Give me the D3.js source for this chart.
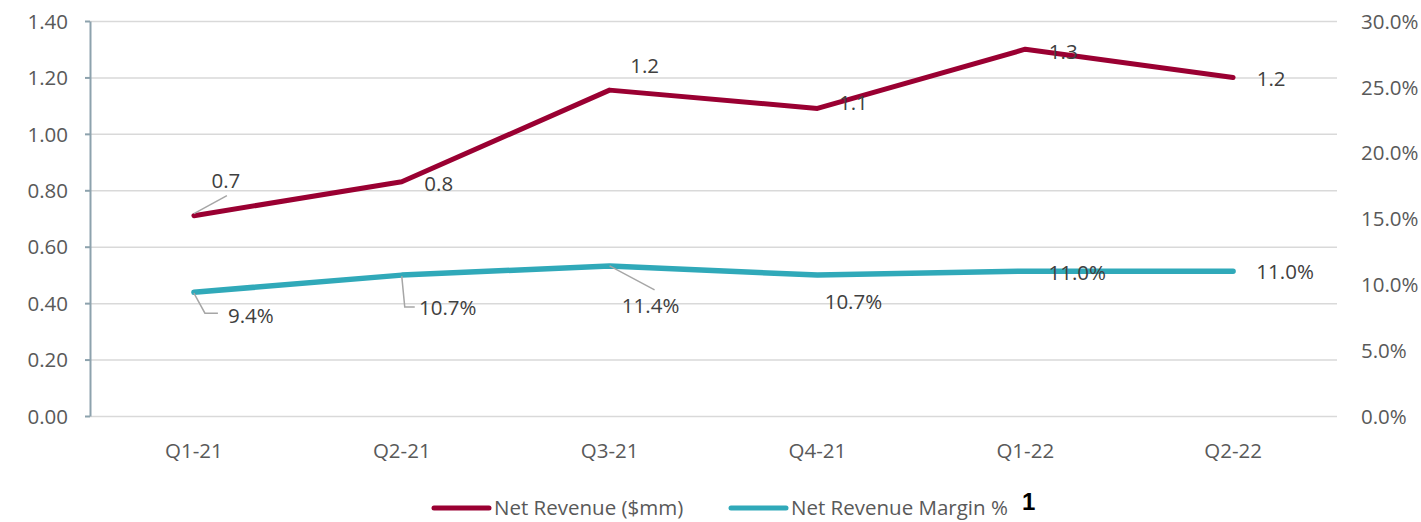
<!DOCTYPE html>
<html>
<head>
<meta charset="utf-8">
<script src="https://cdn.jsdelivr.net/npm/d3@7"></script>
<style>
  body { margin: 0; background: #fff; }
  svg text { font-family: "Open Sans", "Noto Sans", sans-serif; }
</style>
</head>
<body>
<svg id="revenue" width="1421" height="522"></svg>
<script>
// chart data
const categories = ["Q1-21", "Q2-21", "Q3-21", "Q4-21", "Q1-22", "Q2-22"];
const netRevenue = [0.71, 0.83, 1.155, 1.09, 1.30, 1.20];
const marginPct = [9.4, 10.7, 11.4, 10.7, 11.0, 11.0];
const leftTicks = [0, 0.2, 0.4, 0.6, 0.8, 1.0, 1.2, 1.4];
const rightTicks = [0, 5, 10, 15, 20, 25, 30];
const seriesNames = ["Net Revenue ($mm)", "Net Revenue Margin %"];

document.addEventListener('DOMContentLoaded', _ => {
  const svg = d3.select("svg#revenue");
  const margins = { "top": 21, "right": 84, "bottom": 106, "left": 90 };
  const width = +svg.attr("width");
  const height = +svg.attr("height");
  const chartWidth = width - margins.left - margins.right;
  const chartHeight = height - margins.top - margins.bottom;

  const red = "#9a0032";
  const teal = "#30a9b9";
  const labelColor = "#404040";
  const axisColor = "#595959";

  let xScale = d3.scaleBand().domain(categories).range([0, chartWidth]);
  let yLeft = d3.scaleLinear().domain([0, 1.4]).range([chartHeight, 0]);
  let yRight = d3.scaleLinear().domain([0, 30]).range([chartHeight, 0]);
  const cx = c => xScale(c) + xScale.bandwidth() / 2;

  let chart = svg.append("g").attr("transform", `translate(${margins.left},${margins.top})`);

  // gridlines
  let grid = chart.append("g").attr("class", "gridlines")
    .call(d3.axisLeft(yLeft).tickValues(leftTicks).tickFormat("").tickSize(-chartWidth));
  grid.select(".domain").remove();
  grid.selectAll("line").attr("stroke", "#d9d9d9").attr("stroke-width", 1.5);

  // left axis
  let leftAxis = chart.append("g").attr("class", "y axis")
    .call(d3.axisLeft(yLeft).tickValues(leftTicks).tickFormat(d3.format(".2f"))
      .tickSizeInner(5).tickSizeOuter(0).tickPadding(17));
  leftAxis.select(".domain").attr("stroke", "#8da2ad").attr("stroke-width", 2);
  leftAxis.selectAll("line").attr("stroke", "#8da2ad").attr("stroke-width", 2);
  leftAxis.selectAll("text").attr("fill", axisColor).style("font-size", "20.5px").attr("dy", "0.35em");

  // right axis
  let rightAxis = chart.append("g").attr("class", "y axis right")
    .attr("transform", `translate(${chartWidth},0)`)
    .call(d3.axisRight(yRight).tickValues(rightTicks).tickFormat(d => d3.format(".1f")(d) + "%")
      .tickSize(0).tickPadding(24));
  rightAxis.select(".domain").remove();
  rightAxis.selectAll("text").attr("fill", axisColor).style("font-size", "20.5px").attr("dy", "0.35em");

  // bottom axis
  let bottomAxis = chart.append("g").attr("class", "x axis")
    .attr("transform", `translate(0,${chartHeight})`)
    .call(d3.axisBottom(xScale).tickSize(0).tickPadding(27));
  bottomAxis.select(".domain").remove();
  bottomAxis.selectAll("text").attr("fill", axisColor).style("font-size", "20.5px");

  // lines
  let revLine = d3.line().x((d, i) => cx(categories[i])).y(d => yLeft(d));
  let marginLine = d3.line().x((d, i) => cx(categories[i])).y(d => yRight(d));
  chart.append("path").datum(marginPct)
    .attr("d", marginLine).attr("fill", "none").attr("stroke", teal)
    .attr("stroke-width", 5.5).attr("stroke-linecap", "round").attr("stroke-linejoin", "round");
  chart.append("path").datum(netRevenue)
    .attr("d", revLine).attr("fill", "none").attr("stroke", red)
    .attr("stroke-width", 5).attr("stroke-linecap", "round").attr("stroke-linejoin", "round");

  // data label placement (offsets from the point, as moved by hand in the original)
  const revOffsets = [[32, -35], [37, 2], [35, -24], [36, -6], [38, 3], [38, 1]];
  const marginOffsets = [[57, 24], [46, 33], [41, 40], [36, 27], [52, 2], [52, 1]];
  const revLeaders = { 0: [[0, -2], [33, -20]] };
  const marginLeaders = { 0: [[0, 1], [11, 21], [24, 21]], 1: [[0, 1], [3, 32], [13, 32]], 2: [[0, 0], [45, 24]] };

  let leaders = chart.append("g").attr("class", "leaders");
  const drawLeaders = (obj, values, yS) => {
    Object.keys(obj).forEach(k => {
      let px = cx(categories[k]), py = yS(values[k]);
      leaders.append("path")
        .attr("d", d3.line()(obj[k].map(o => [px + o[0], py + o[1]])))
        .attr("fill", "none").attr("stroke", "#a6a6a6").attr("stroke-width", 1.5);
    });
  };
  drawLeaders(revLeaders, netRevenue, yLeft);
  drawLeaders(marginLeaders, marginPct, yRight);

  chart.append("g").selectAll("text").data(netRevenue).enter().append("text")
    .text(d => d3.format(".1f")(d))
    .attr("x", (d, i) => cx(categories[i]) + revOffsets[i][0])
    .attr("y", (d, i) => yLeft(d) + revOffsets[i][1])
    .attr("dy", "0.35em").attr("text-anchor", "middle")
    .attr("fill", labelColor).style("font-size", "20.5px");

  chart.append("g").selectAll("text").data(marginPct).enter().append("text")
    .text(d => d3.format(".1f")(d) + "%")
    .attr("x", (d, i) => cx(categories[i]) + marginOffsets[i][0])
    .attr("y", (d, i) => yRight(d) + marginOffsets[i][1])
    .attr("dy", "0.35em").attr("text-anchor", "middle")
    .attr("fill", labelColor).style("font-size", "20.5px");

  // legend
  const legendY = 508;
  const legendX = [434, 731];
  [red, teal].forEach((c, i) => {
    svg.append("line").attr("x1", legendX[i]).attr("x2", legendX[i] + 55)
      .attr("y1", legendY).attr("y2", legendY)
      .attr("stroke", c).attr("stroke-width", 5).attr("stroke-linecap", "round");
    svg.append("text").attr("x", legendX[i] + 60).attr("y", legendY).attr("dy", "0.35em")
      .text(seriesNames[i]).attr("fill", axisColor).style("font-size", "20.5px");
  });
  svg.append("text").attr("x", 1022).attr("y", 502).attr("dy", "0.35em")
    .text("1").attr("fill", "#000")
    .style("font-family", "'Liberation Sans', Arial, sans-serif")
    .style("font-weight", "bold").style("font-size", "24px");
});
</script>
</body>
</html>
